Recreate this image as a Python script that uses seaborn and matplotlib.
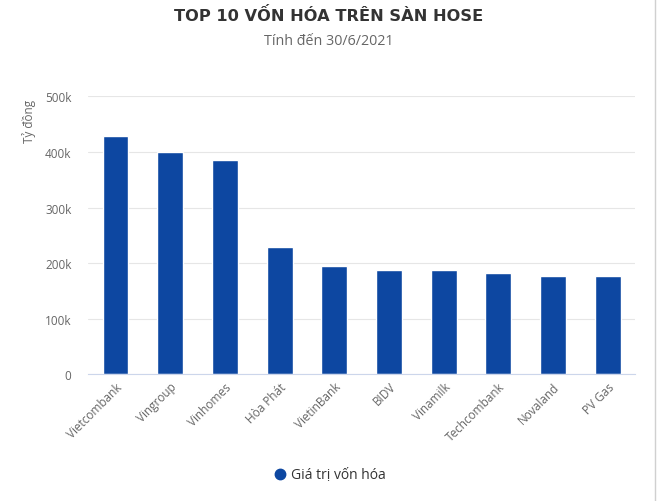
import pandas as pd
import seaborn as sns
import matplotlib.pyplot as plt
from matplotlib.lines import Line2D
from matplotlib.ticker import FuncFormatter

# Data (ty dong)
companies = ["Vietcombank", "Vingroup", "Vinhomes", "Hòa Phát", "VietinBank",
             "BIDV", "Vinamilk", "Techcombank", "Novaland", "PV Gas"]
market_cap = [429000, 400000, 385000, 229000, 195000,
              188000, 188000, 182000, 177000, 177000]
series_name = "Giá trị vốn hóa"

df = pd.DataFrame({"company": companies, "value": market_cap})

sns.set_style("white")
plt.rcParams["font.family"] = ["Open Sans", "DejaVu Sans"]

fig = plt.figure(figsize=(6.58, 5.02), dpi=100)
ax = fig.add_axes([0.134, 0.2524, 0.831, 0.5536])

bar_color = "#0d47a1"
sns.barplot(data=df, x="company", y="value", color=bar_color, width=0.475,
            saturation=1, ax=ax)

ax.set_ylim(0, 500000)
ax.set_yticks([0, 100000, 200000, 300000, 400000, 500000])
ax.yaxis.set_major_formatter(FuncFormatter(lambda v, p: "0" if v == 0 else f"{int(v / 1000)}k"))
ax.grid(axis="y", color="#e6e6e6", linewidth=0.8)
ax.set_axisbelow(True)
for side in ["top", "right", "left"]:
    ax.spines[side].set_visible(False)
ax.spines["bottom"].set_color("#ccd6eb")
ax.tick_params(axis="both", length=0, colors="#666666", labelsize=8.5)
ax.tick_params(axis="y", pad=12)
ax.tick_params(axis="x", pad=4)
plt.setp(ax.get_xticklabels(), rotation=45, ha="right", rotation_mode="anchor")

ax.set_xlabel("")
ax.set_ylabel("Tỷ đồng", color="#666666", fontsize=8.5, loc="top", labelpad=22)
ax.yaxis.set_label_coords(-0.095, 0.99, transform=ax.transAxes)

fig.text(0.5, 0.97, "TOP 10 VỐN HÓA TRÊN SÀN HOSE", ha="center", va="center",
         fontsize=11.7, fontweight="bold", color="#333333",
         family=["DejaVu Sans"])
fig.text(0.5, 0.918, "Tính đến 30/6/2021", ha="center", va="center",
         fontsize=10.3, color="#666666")

handle = Line2D([], [], marker="o", linestyle="none", markersize=7.5,
                markerfacecolor=bar_color, markeredgecolor=bar_color)
fig.legend([handle], [series_name], loc="center", bbox_to_anchor=(0.5, 0.052),
           frameon=False, fontsize=10, labelcolor="#333333",
           handletextpad=0.3, handlelength=1)

fig.add_artist(Line2D([0.9955, 0.9955], [0, 1], color="#d0d0d0", linewidth=1,
                      transform=fig.transFigure))

fig.savefig("out.png", dpi=100)
